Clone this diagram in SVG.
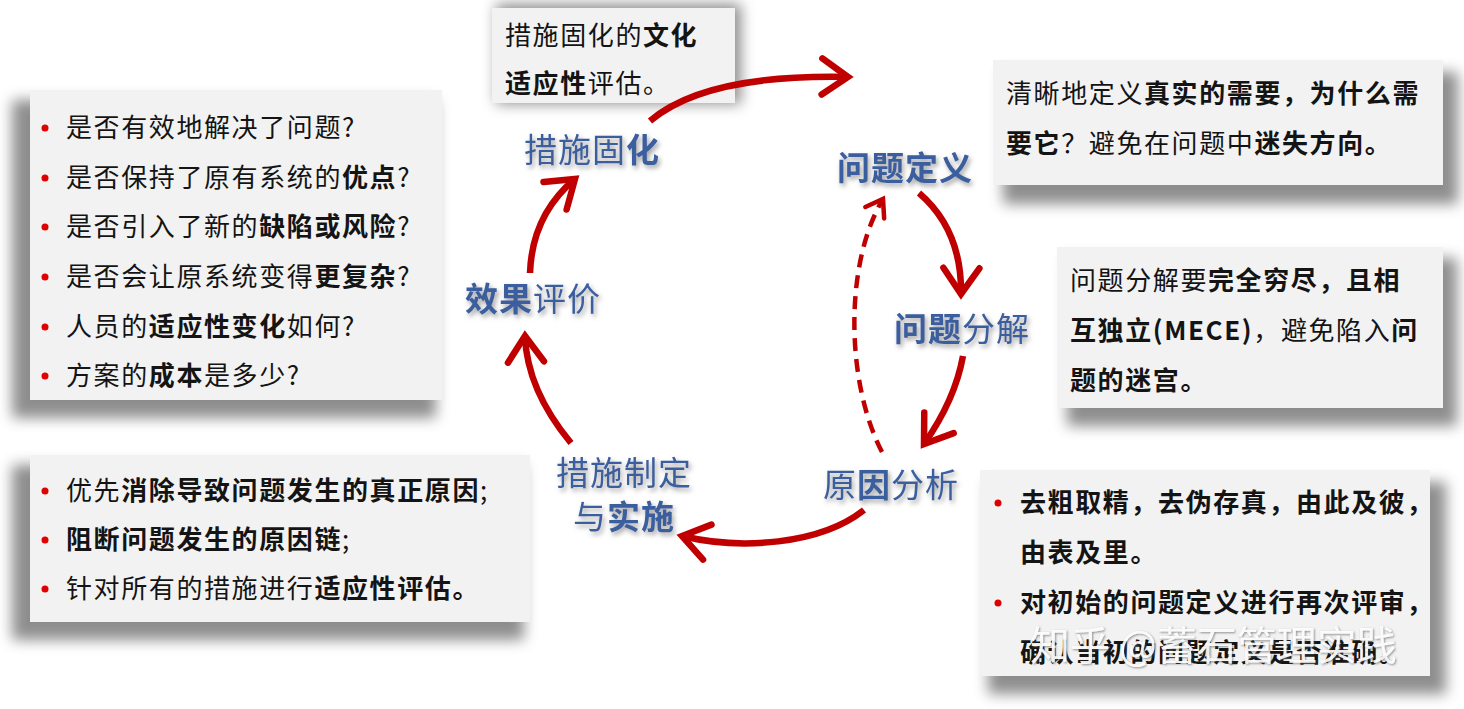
<svg xmlns="http://www.w3.org/2000/svg" width="1464" height="709" viewBox="0 0 1464 709">
<defs>
<filter id="bshadow" x="-20%" y="-20%" width="140%" height="150%">
<feGaussianBlur stdDeviation="7"/>
</filter>
<filter id="tshadow" x="-20%" y="-30%" width="140%" height="160%">
<feDropShadow dx="2" dy="3" stdDeviation="2.5" flood-color="#7f7f7f" flood-opacity="0.75"/>
</filter>
<filter id="wshadow" x="-10%" y="-30%" width="120%" height="160%">
<feDropShadow dx="1" dy="1" stdDeviation="1.2" flood-color="#555555" flood-opacity="0.7"/>
</filter>
<marker id="ah" markerUnits="userSpaceOnUse" viewBox="-34 -24 40 48" refX="0" refY="0" markerWidth="40" markerHeight="48" orient="auto" overflow="visible">
<path d="M-26,-18 L0,0 L-26,18" fill="none" stroke="#c00000" stroke-width="6.5" stroke-linecap="round" stroke-linejoin="miter"/>
</marker>
<marker id="ahd" markerUnits="userSpaceOnUse" viewBox="-30 -20 36 40" refX="0" refY="0" markerWidth="36" markerHeight="40" orient="auto" overflow="visible">
<path d="M-16,-11 L0,0 L-16,11" fill="none" stroke="#c00000" stroke-width="4.5" stroke-linecap="round" stroke-linejoin="miter"/>
</marker>
</defs>
<style>
.box{fill:#f2f2f2}
.sh{fill:#7a7a7a;filter:url(#bshadow);opacity:0.85}
.t{font-family:"Noto Sans CJK SC","Microsoft YaHei",sans-serif;font-size:26px;letter-spacing:1.6px;fill:#141414}
.b{font-weight:700}
.bul{fill:#e00000}
.node{font-family:"Noto Sans CJK SC","Microsoft YaHei",sans-serif;font-size:33px;letter-spacing:1px;fill:#3b5f9e;text-anchor:middle;filter:url(#tshadow)}
.arr{fill:none;stroke:#c00000;stroke-width:6.5;stroke-linecap:butt}
.dash{fill:none;stroke:#c00000;stroke-width:4.5;stroke-dasharray:13 8}
.wm{font-family:"Noto Sans CJK SC",sans-serif;font-size:40px;fill:#ffffff;fill-opacity:0.9;filter:url(#wshadow)}
</style>
<rect width="1464" height="709" fill="#ffffff"/>

<!-- Evaluation questions box -->
<g id="box-eval">
<rect class="sh" x="12" y="100" width="424" height="318"/>
<rect class="box" x="30" y="90" width="412" height="310"/>
<circle class="bul" cx="45" cy="128" r="3.5"/>
<text class="t" x="66" y="137">是否有效地解决了问题?</text>
<circle class="bul" cx="45" cy="178" r="3.5"/>
<text class="t" x="66" y="187">是否保持了原有系统的<tspan class="b">优点</tspan>?</text>
<circle class="bul" cx="45" cy="227" r="3.5"/>
<text class="t" x="66" y="236">是否引入了新的<tspan class="b">缺陷或风险</tspan>?</text>
<circle class="bul" cx="45" cy="277" r="3.5"/>
<text class="t" x="66" y="286">是否会让原系统变得<tspan class="b">更复杂</tspan>?</text>
<circle class="bul" cx="45" cy="327" r="3.5"/>
<text class="t" x="66" y="336">人员的<tspan class="b">适应性变化</tspan>如何?</text>
<circle class="bul" cx="45" cy="376" r="3.5"/>
<text class="t" x="66" y="385">方案的<tspan class="b">成本</tspan>是多少?</text>
</g>

<!-- Measures box -->
<g id="box-measures">
<rect class="sh" x="12" y="465" width="512" height="175"/>
<rect class="box" x="30" y="455" width="500" height="167"/>
<circle class="bul" cx="45" cy="491" r="3.5"/>
<text class="t" x="66" y="500">优先<tspan class="b">消除导致问题发生的真正原因</tspan>;</text>
<circle class="bul" cx="45" cy="540" r="3.5"/>
<text class="t" x="66" y="549"><tspan class="b">阻断问题发生的原因链</tspan>;</text>
<circle class="bul" cx="45" cy="589" r="3.5"/>
<text class="t" x="66" y="598">针对所有的措施进行<tspan class="b">适应性评估。</tspan></text>
</g>

<!-- Consolidation note -->
<g id="box-consolidate">
<rect class="sh" x="496" y="4" width="245" height="100"/>
<rect class="box" x="492" y="8" width="243" height="95"/>
<text class="t" x="505" y="45">措施固化的<tspan class="b">文化</tspan></text>
<text class="t" x="505" y="93"><tspan class="b">适应性</tspan>评估。</text>
</g>

<!-- Definition note -->
<g id="box-define">
<rect class="sh" x="1003" y="72" width="455" height="132"/>
<rect class="box" x="993" y="60" width="450" height="125"/>
<text class="t" x="1006" y="103">清晰地定义<tspan class="b">真实的需要，为什么需</tspan></text>
<text class="t" x="1006" y="153"><tspan class="b">要它</tspan>？避免在问题中<tspan class="b">迷失方向。</tspan></text>
</g>

<!-- Decomposition note -->
<g id="box-decompose">
<rect class="sh" x="1067" y="258" width="390" height="168"/>
<rect class="box" x="1057" y="247" width="386" height="161"/>
<text class="t" x="1070" y="290">问题分解要<tspan class="b">完全穷尽，且相</tspan></text>
<text class="t" x="1070" y="340"><tspan class="b">互独立(MECE)</tspan>，避免陷入<tspan class="b">问</tspan></text>
<text class="t" x="1070" y="390"><tspan class="b">题的迷宫。</tspan></text>
</g>

<!-- Cause analysis note -->
<g id="box-cause">
<rect class="sh" x="988" y="482" width="458" height="212"/>
<rect class="box" x="980" y="470" width="450" height="206"/>
<circle class="bul" cx="998" cy="503" r="3.5"/>
<text class="t b" x="1020" y="512">去粗取精，去伪存真，由此及彼，</text>
<text class="t b" x="1020" y="562">由表及里。</text>
<circle class="bul" cx="998" cy="603" r="3.5"/>
<text class="t b" x="1020" y="612">对初始的问题定义进行再次评审，</text>
<text class="t b" x="1020" y="662">确认当初的问题定义是否准确。</text>
</g>

<!-- Connectors -->
<g id="connectors">
<path class="arr" d="M650,121 Q705,74 848,77" marker-end="url(#ah)"/>
<path class="arr" d="M919,193 Q962,230 961,294" marker-end="url(#ah)"/>
<path class="arr" d="M963,356 Q955,400 924,444" marker-end="url(#ah)"/>
<path class="dash" d="M882,452 C845,380 845,262 883,199" marker-end="url(#ahd)"/>
<path class="arr" d="M864,510 C820,545 740,550 682,536" marker-end="url(#ah)"/>
<path class="arr" d="M571,443 Q527,390 525,336" marker-end="url(#ah)"/>
<path class="arr" d="M530,273 Q532,215 575,179" marker-end="url(#ah)"/>
</g>

<!-- Nodes -->
<g id="node-consolidate"><text class="node" x="592" y="162">措施固<tspan class="b">化</tspan></text></g>
<g id="node-define"><text class="node b" x="905" y="180">问题定义</text></g>
<g id="node-decompose"><text class="node" x="962" y="341"><tspan class="b">问题</tspan>分解</text></g>
<g id="node-cause"><text class="node" x="891" y="497">原<tspan class="b">因</tspan>分析</text></g>
<g id="node-implement"><text class="node" x="624" y="485">措施制定</text><text class="node" x="624" y="529">与<tspan class="b">实施</tspan></text></g>
<g id="node-evaluate"><text class="node" x="533" y="311"><tspan class="b">效果</tspan>评价</text></g>

<!-- Watermark -->
<text class="wm" x="1030" y="660">知乎 @蓄石管理实践</text>
</svg>
